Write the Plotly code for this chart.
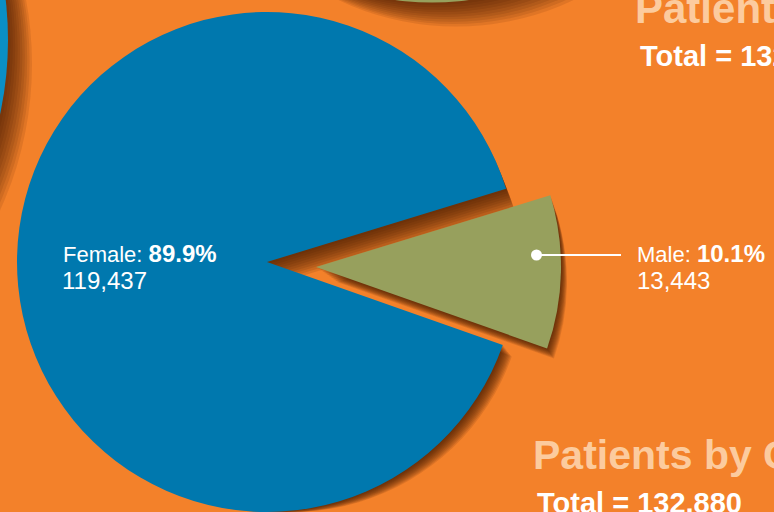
import plotly.graph_objects as go

# ---------------- data ----------------
categories = ["Male", "Female"]
patients = [13443, 119437]
percent_labels = ["10.1%", "89.9%"]
count_labels = ["13,443", "119,437"]
total_label = "Total = 132,880"
title_bottom = "Patients by Gender"
title_top = "Patients by Age"

# ---------------- style ----------------
W, H = 774, 512
BG = "#F3812A"
BLUE = "#0078AE"
GREEN = "#97A05D"
LEFT_BLUE = "#0A8FC5"
PEACH = "#FCCB9E"
SHADOW = "rgba(62,24,0,0.12)"
FONT = "Liberation Sans, Arial, Helvetica, sans-serif"
N_SH = 10

total = sum(patients)
male_angle = 360.0 * patients[0] / total
ROT = 91.2 - male_angle / 2.0  # male wedge centred just below 3 o'clock


def dom(cx, cy, r):
    return dict(x=[max(0.0, (cx - r) / W), min(1.0, (cx + r) / W)],
                y=[max(0.0, 1 - (cy + r) / H), min(1.0, 1 - (cy - r) / H)])


def pie(colors, cx, cy, r):
    return go.Pie(labels=categories, values=patients, sort=False,
                  direction="clockwise", rotation=ROT,
                  marker=dict(colors=colors, line=dict(width=0)),
                  textinfo="none", hoverinfo="skip", showlegend=False,
                  domain=dom(cx, cy, r))


F_CX, F_CY, F_R = 267, 262, 250
M_CX, M_CY, M_R = 316, 267, 245
T = "rgba(0,0,0,0)"

fig = go.Figure()
# female shadow layers
for k in range(1, N_SH + 1):
    dx, dy = 2.5 * k, 1.7 * k
    cy = F_CY + dy
    r = min(F_R, H - cy)
    fig.add_trace(pie([T, SHADOW], F_CX + dx, cy, r))
fig.add_trace(pie([T, BLUE], F_CX, F_CY, F_R))
# male shadow layers
for k in range(1, N_SH + 1):
    dx, dy = 2.1 * k, 1.5 * k
    cy = M_CY + dy
    r = min(M_R, H - cy)
    fig.add_trace(pie([SHADOW, T], M_CX + dx, cy, r))
fig.add_trace(pie([GREEN, T], M_CX, M_CY, M_R))


def circ(cx, cy, r, color, layer="below"):
    return dict(type="circle", xref="paper", yref="paper",
                x0=(cx - r) / W, x1=(cx + r) / W,
                y0=1 - (cy + r) / H, y1=1 - (cy - r) / H,
                fillcolor=color, line=dict(width=0), layer=layer)


shapes = []
# neighbouring charts peeking in at the edges (decor)
for (cx, cy, r, col) in [(-343, 40, 351, LEFT_BLUE), (432, -271.5, 274, GREEN)]:
    for k in range(1, N_SH + 1):
        shapes.append(circ(cx + 2.4 * k, cy + 2.4 * k, r, "rgba(62,24,0,0.10)"))
    shapes.append(circ(cx, cy, r, col))

# leader line for the male label
dot_x, dot_y = M_CX + 0.9 * M_R, 255
line_end = 621
shapes.append(dict(type="line", xref="paper", yref="paper",
                   x0=dot_x / W, x1=line_end / W, y0=1 - dot_y / H, y1=1 - dot_y / H,
                   line=dict(color="white", width=2), layer="above"))
shapes.append(circ(dot_x, dot_y, 5.5, "white", layer="above"))


def ann(text, x, y, size, color="white", bold=False):
    return dict(text=f"<b>{text}</b>" if bold else text, x=x / W, y=1 - y / H,
                xref="paper", yref="paper", xanchor="left", yanchor="middle",
                showarrow=False, font=dict(family=FONT, size=size, color=color))


big = lambda s: f"<span style='font-size:24px'><b>{s}</b></span>"
annotations = [
    ann(f"{categories[1]}: " + big(percent_labels[1]), 61, 253, 22),
    ann(count_labels[1], 60, 280, 24),
    ann(f"{categories[0]}: " + big(percent_labels[0]), 635, 253, 22),
    ann(count_labels[0], 635, 280, 24),
    ann(title_top, 633, 8, 42, PEACH, True),
    ann(total_label, 638, 56, 29, "white", True),
    ann(title_bottom, 531, 455, 41, PEACH, True),
    ann(total_label, 535, 503, 29, "white", True),
]

fig.update_layout(width=W, height=H, margin=dict(l=0, r=0, t=0, b=0),
                  paper_bgcolor=BG, plot_bgcolor=BG,
                  shapes=shapes, annotations=annotations)
fig.write_html("out.html", config={"displayModeBar": False},
               post_script="document.body.style.margin='0';"
                           "document.body.style.overflow='hidden';")
